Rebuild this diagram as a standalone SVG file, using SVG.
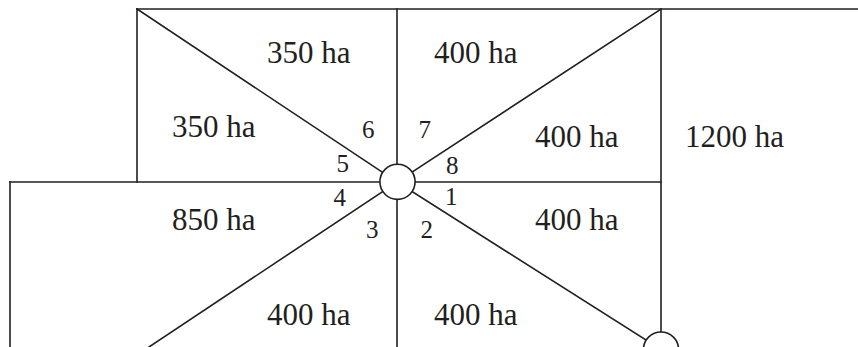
<svg xmlns="http://www.w3.org/2000/svg" width="858" height="347" viewBox="0 0 858 347">
<style>
.ln{stroke:#231f20;stroke-width:1.6;fill:none;stroke-linecap:square}
.nd{stroke:#231f20;stroke-width:1.6;fill:#ffffff}
.area{font-family:"Liberation Serif","Times New Roman",serif;font-size:31px;fill:#231f20}
.num{font-family:"Liberation Serif","Times New Roman",serif;font-size:25px;fill:#231f20}
</style>
<rect width="858" height="347" fill="#ffffff"/>
<g id="connectors">
<line class="ln" x1="137" y1="9" x2="858" y2="9"/>
<line class="ln" x1="137" y1="9" x2="137" y2="182"/>
<line class="ln" x1="10" y1="182" x2="661" y2="182"/>
<line class="ln" x1="10" y1="182" x2="10" y2="347"/>
<line class="ln" x1="397" y1="9" x2="397" y2="347"/>
<line class="ln" x1="661" y1="9" x2="661" y2="349"/>
<line class="ln" x1="137" y1="9" x2="397" y2="182"/>
<line class="ln" x1="661" y1="9" x2="397" y2="182"/>
<line class="ln" x1="397" y1="182" x2="149" y2="347"/>
<line class="ln" x1="397" y1="182" x2="661" y2="349.5"/>
</g>
<g id="node-center"><circle class="nd" cx="397.5" cy="181.8" r="17.6"/></g>
<g id="node-outlet"><circle class="nd" cx="661" cy="349.6" r="17.6"/></g>
<g id="areas">
<g id="area-7"><text class="area" x="267" y="63">350 ha</text></g>
<g id="area-6"><text class="area" x="172" y="137">350 ha</text></g>
<g id="area-8"><text class="area" x="434" y="63">400 ha</text></g>
<g id="area-1"><text class="area" x="535" y="147">400 ha</text></g>
<g id="area-2"><text class="area" x="535" y="230">400 ha</text></g>
<g id="area-3"><text class="area" x="434" y="325">400 ha</text></g>
<g id="area-4"><text class="area" x="267" y="325">400 ha</text></g>
<g id="area-5"><text class="area" x="172" y="230">850 ha</text></g>
<g id="area-r"><text class="area" x="685" y="147">1200 ha</text></g>
</g>
<g id="numbers">
<text class="num" x="362" y="138">6</text>
<text class="num" x="418.5" y="138">7</text>
<text class="num" x="336.5" y="172">5</text>
<text class="num" x="446" y="174">8</text>
<text class="num" x="333.5" y="205.5">4</text>
<text class="num" x="445" y="205">1</text>
<text class="num" x="366" y="238">3</text>
<text class="num" x="420.5" y="238">2</text>
</g>
</svg>
